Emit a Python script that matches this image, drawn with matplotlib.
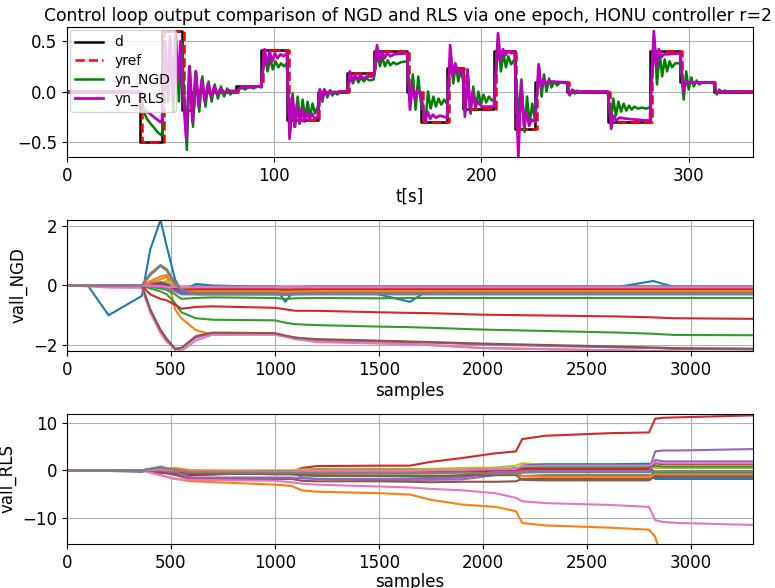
import matplotlib
matplotlib.use('Agg')
import matplotlib.pyplot as plt
import numpy as np

plt.rcParams['font.size'] = 12

# --- top panel: setpoint steps (t[s], level) ---
d_switch = [0, 35.3, 45.8, 55.7, 60.5, 81.5, 93.7, 106.1, 121.0, 135.3, 148.0, 164.1, 170.9,
            183.4, 191.0, 206.0, 216.0, 225.9, 241.4, 261.0, 281.3, 296.0, 312.0, 331.0]
d_level = [0, -0.5, 0.6, -0.18, 0.0, 0.05, 0.41, -0.28, 0.0, 0.18, 0.40, 0.0, -0.30,
           0.23, -0.17, 0.40, -0.37, 0.09, 0.0, -0.30, 0.40, 0.09, 0.0, 0.0]
yref_switch = [0, 36.1, 46.6, 56.5, 61.3, 82.3, 94.5, 106.9, 121.8, 136.1, 148.8, 164.9, 171.7,
               184.2, 191.8, 206.8, 216.8, 226.7, 242.2, 261.8, 282.1, 296.8, 312.8, 331.0]

# plant output with NGD-trained controller (t, y)
yn_ngd = [(0, 0), (35.3, 0), (36, -0.12), (37, -0.2), (38.5, -0.27), (40, -0.31), (42, -0.36), (44, -0.41), (45.8, -0.44),
          (47.5, 0.4), (48.8, -0.1), (50, 0.5), (51.3, -0.2), (52.5, 0.55), (54, -0.1), (55.3, 0.5), (56.5, 0.0),
          (57.8, -0.58), (59.3, 0.25), (60.8, -0.35), (62.3, 0.2), (63.8, -0.2), (65.3, 0.15), (66.8, -0.15),
          (68.3, 0.1), (69.8, -0.1), (71.3, 0.07), (72.8, -0.07), (74.3, 0.05), (75.8, -0.05), (77.3, 0.03),
          (78.8, -0.03), (80.5, 0.01), (82, 0.0), (84, 0.04), (86, 0.02), (88, 0.05), (90, 0.03), (92, 0.05), (93.7, 0.04),
          (95.5, 0.38), (96.8, 0.2), (98, 0.33), (99.3, 0.22), (100.6, 0.3), (102, 0.24), (103.3, 0.28), (104.7, 0.25), (106, 0.28),
          (107.6, -0.42), (108.9, -0.02), (110.1, -0.35), (111.3, -0.05), (112.5, -0.3), (113.7, -0.08), (114.9, -0.27),
          (116.1, -0.1), (117.3, -0.25), (118.5, -0.12), (119.7, -0.22), (121, -0.15),
          (122, 0.02), (123.2, -0.1), (124.4, 0.02), (125.6, -0.06), (126.8, 0.01), (128, -0.04), (129.2, 0.0),
          (130.4, -0.03), (132, 0.0), (135.3, 0.0),
          (136.8, 0.18), (138, 0.08), (139.3, 0.15), (140.6, 0.09), (141.9, 0.14), (143.2, 0.1), (144.5, 0.13), (146, 0.11), (148, 0.12),
          (149.8, 0.38), (151, 0.25), (152.2, 0.34), (153.4, 0.25), (154.7, 0.31), (156, 0.26), (157.5, 0.29), (159, 0.27),
          (161, 0.29), (164.1, 0.3),
          (165.6, -0.12), (166.9, 0.17), (168.2, -0.18), (169.5, 0.15), (170.7, -0.1),
          (171.8, -0.2), (173, -0.3), (174.2, 0.0), (175.5, -0.17), (176.8, -0.05), (178, -0.15), (179.3, -0.07),
          (180.6, -0.13), (182, -0.08), (183.4, -0.12),
          (185.2, 0.36), (186.4, 0.08), (187.6, 0.27), (188.8, 0.1), (190, 0.2), (191, 0.13),
          (192.3, -0.2), (193.5, 0.15), (194.8, -0.22), (196, 0.05), (197.3, -0.16), (198.5, 0.0), (199.8, -0.13),
          (201, -0.03), (202.3, -0.11), (203.6, -0.05), (205, -0.09), (206, -0.08),
          (208.2, 0.47), (209.4, 0.2), (210.6, 0.38), (211.8, 0.24), (213, 0.35), (214.3, 0.27), (216, 0.32),
          (216.8, 0.1), (218, -0.25), (219.3, 0.12), (220.8, -0.4), (222, -0.05), (223.2, -0.32), (224.5, -0.12), (225.9, -0.3),
          (227.8, 0.24), (229, -0.05), (230.2, 0.17), (231.4, 0.0), (232.6, 0.13), (233.8, 0.04), (235, 0.1),
          (236.5, 0.06), (238, 0.09), (241.4, 0.08),
          (242.6, -0.04), (243.8, 0.02), (245, -0.02), (246.3, 0.01), (247.5, -0.01), (249, 0.0), (261, 0.0),
          (262.4, -0.32), (263.6, -0.07), (264.9, -0.24), (266.1, -0.1), (267.4, -0.2), (268.6, -0.12), (269.9, -0.19),
          (271.2, -0.14), (272.5, -0.18), (273.8, -0.15), (275.5, -0.17), (277.5, -0.16), (279.5, -0.17), (281.3, -0.16),
          (283.5, 0.5), (284.7, 0.07), (286, 0.38), (287.2, 0.15), (288.4, 0.32), (289.6, 0.2), (290.8, 0.3),
          (292, 0.24), (293.5, 0.28), (296, 0.28),
          (297.6, -0.08), (298.8, 0.2), (300, 0.02), (301.3, 0.14), (302.5, 0.05), (303.8, 0.11), (305, 0.07),
          (307, 0.09), (312, 0.09),
          (313.5, -0.03), (314.8, 0.02), (316, -0.01), (317.3, 0.01), (319, 0.0), (331, 0.0)]

# plant output with RLS-trained controller (t, y)
yn_rls = [(0, 0), (35.3, 0), (36, -0.1), (37, -0.17), (38.5, -0.2), (40, -0.22), (41.7, -0.25), (43, -0.27), (44.9, -0.3), (45.8, -0.31),
          (47.3, 0.5), (48.5, 0.0), (49.7, 0.55), (51, -0.1), (52.3, 0.57), (53.5, 0.1), (54.8, 0.5), (56.2, -0.1),
          (57.5, -0.47), (59, 0.25), (60.5, -0.3), (62, 0.2), (63.5, -0.15), (65, 0.12), (66.5, -0.1), (68, 0.08),
          (69.5, -0.05), (71, 0.05), (72.5, -0.03), (74, 0.03), (76, -0.01), (78, 0.01), (81.5, 0.0),
          (85, 0.05), (88, 0.04), (91, 0.05), (93.7, 0.05),
          (95.3, 0.42), (96.5, 0.25), (97.8, 0.4), (99, 0.3), (100.3, 0.38), (101.5, 0.33), (103, 0.37), (104.5, 0.35), (106.1, 0.38),
          (107.4, -0.47), (108.6, -0.05), (109.8, -0.35), (111, -0.12), (112.2, -0.32), (113.4, -0.17), (114.6, -0.3),
          (115.8, -0.2), (117, -0.28), (118.2, -0.22), (119.4, -0.27), (121, -0.25),
          (122, 0.02), (123, -0.08), (124, 0.02), (125.5, -0.04), (127, 0.01), (129, -0.02), (131, 0.0), (135.3, 0.0),
          (136.5, 0.2), (137.7, 0.1), (139, 0.17), (140.3, 0.12), (141.6, 0.16), (143, 0.13), (145, 0.15), (148, 0.15),
          (149.6, 0.46), (150.8, 0.3), (152, 0.4), (153.2, 0.33), (154.5, 0.38), (156, 0.35), (158, 0.37), (164.1, 0.38),
          (165.5, -0.18), (166.7, 0.05), (168, -0.08), (169.3, 0.02), (170.9, -0.03),
          (172.8, -0.3), (174, -0.2), (175.3, -0.27), (176.6, -0.23), (178, -0.26), (180, -0.24), (183.4, -0.26),
          (184.9, 0.46), (186.1, 0.15), (187.3, 0.28), (188.5, 0.18), (189.8, 0.22), (191, 0.2),
          (192, -0.25), (193.3, 0.22), (194.5, -0.2), (195.8, 0.0), (197, -0.15), (198.3, -0.1), (200, -0.15), (206, -0.15),
          (208, 0.58), (209.2, 0.3), (210.4, 0.42), (211.6, 0.36), (212.8, 0.4), (214, 0.38), (216, 0.39),
          (217.8, -0.65), (219.2, 0.1), (220.5, -0.35), (221.8, -0.2), (223, -0.34), (224.3, -0.28), (225.9, -0.3),
          (227.6, 0.27), (228.8, 0.03), (230, 0.13), (231.2, 0.07), (232.5, 0.1), (241.4, 0.09),
          (242.5, -0.03), (244, 0.01), (246, 0.0), (261, 0.0),
          (262.6, -0.37), (263.8, -0.24), (265, -0.29), (266.5, -0.26), (270, -0.27), (275, -0.28), (281.3, -0.29),
          (283.2, 0.6), (284.4, 0.24), (285.6, 0.42), (286.8, 0.34), (288, 0.37), (290, 0.37), (296, 0.38),
          (297.5, 0.0), (298.8, 0.1), (300, 0.09), (312, 0.09),
          (313.5, -0.01), (315, 0.0), (331, 0.0)]

# --- middle panel: NGD weights on a common sample grid ---
ngd_samples = [0, 100, 200, 360, 400, 450, 480, 520, 550, 620, 700, 1000, 1050, 1100,
               1200, 1500, 1650, 1750, 2000, 2650, 2820, 2920, 3300]
ngd_weights = [
    [0, 0, -1.0, -0.35, 1.2, 2.2, 1.3, 0.2, -0.2, 0.05, 0.0, -0.05, -0.55, -0.1, -0.05, -0.3, -0.55, -0.1, -0.05, -0.05, 0.15, -0.05, -0.05],
    [0, 0, 0, 0, 0.15, 0.3, 0.35, -0.8, -1.1, -1.5, -1.65, -1.65, -1.7, -1.75, -1.85, -1.9, -1.95, -2.0, -2.1, -2.18, -2.2, -2.22, -2.25],
    [0, 0, 0, 0, -0.1, -0.2, -0.3, -0.6, -0.9, -1.1, -1.15, -1.17, -1.25, -1.3, -1.33, -1.38, -1.4, -1.42, -1.48, -1.58, -1.62, -1.66, -1.67],
    [0, 0, 0, 0, -0.3, -0.45, -0.5, -0.65, -0.78, -0.72, -0.7, -0.75, -0.8, -0.85, -0.85, -0.9, -0.92, -0.93, -0.98, -1.04, -1.07, -1.1, -1.12],
    [0, 0, 0, 0, -0.8, -1.5, -1.8, -2.1, -2.1, -1.75, -1.6, -1.62, -1.7, -1.8, -1.82, -1.87, -1.9, -1.92, -1.98, -2.08, -2.1, -2.13, -2.15],
    [0, 0, 0, 0, 0.35, 0.68, 0.5, 0.0, -0.1, -0.08, -0.05, -0.05, -0.08, -0.06, -0.05, -0.05, -0.05, -0.05, -0.05, -0.05, -0.05, -0.05, -0.05],
    [0, -0.03, -0.07, -0.08, -0.9, -1.6, -1.9, -2.1, -2.2, -1.85, -1.65, -1.65, -1.72, -1.8, -1.9, -1.95, -1.98, -2.0, -2.1, -2.18, -2.2, -2.22, -2.25],
    [0, 0, 0, 0, 0.4, 0.68, 0.55, 0.1, -0.1, -0.05, -0.03, -0.03, -0.06, -0.05, -0.03, -0.03, -0.03, -0.03, -0.03, -0.03, -0.03, -0.03, -0.03],
    [0, 0, 0, 0, 0.05, 0.1, 0.15, -0.05, -0.15, -0.15, -0.15, -0.15, -0.15, -0.15, -0.15, -0.15, -0.15, -0.15, -0.15, -0.15, -0.15, -0.15, -0.15],
    [0, 0, 0, 0, 0.05, 0.1, 0.05, -0.1, -0.2, -0.18, -0.18, -0.18, -0.2, -0.2, -0.2, -0.2, -0.2, -0.2, -0.2, -0.2, -0.2, -0.2, -0.2],
    [0, 0, 0, 0, 0.05, 0.1, 0.05, -0.15, -0.25, -0.25, -0.25, -0.25, -0.27, -0.26, -0.25, -0.25, -0.25, -0.25, -0.25, -0.25, -0.25, -0.25, -0.25],
    [0, 0, 0, 0, 0.1, 0.2, 0.3, 0.0, -0.15, -0.2, -0.2, -0.2, -0.22, -0.2, -0.2, -0.2, -0.2, -0.2, -0.2, -0.2, -0.2, -0.2, -0.2],
    [0, 0, 0, 0, -0.05, -0.1, -0.15, -0.3, -0.45, -0.42, -0.4, -0.42, -0.45, -0.43, -0.42, -0.43, -0.42, -0.42, -0.42, -0.42, -0.42, -0.42, -0.42],
    [0, 0, 0, 0, 0.0, 0.05, 0.0, -0.1, -0.15, -0.12, -0.12, -0.12, -0.14, -0.13, -0.12, -0.12, -0.12, -0.12, -0.12, -0.12, -0.12, -0.12, -0.12],
    [0, 0, 0, 0, -0.05, -0.05, -0.1, -0.2, -0.3, -0.3, -0.3, -0.3, -0.32, -0.3, -0.3, -0.3, -0.3, -0.3, -0.3, -0.3, -0.3, -0.3, -0.3],
    [0, 0, 0, 0, -0.8, -1.5, -1.8, -2.15, -2.1, -1.7, -1.58, -1.6, -1.68, -1.75, -1.8, -1.85, -1.88, -1.9, -1.95, -2.05, -2.08, -2.1, -2.12],
    [0, 0, 0, 0, 0.0, -0.02, -0.05, -0.05, -0.06, -0.06, -0.06, -0.06, -0.06, -0.06, -0.06, -0.06, -0.06, -0.06, -0.06, -0.06, -0.06, -0.06, -0.06],
    [0, 0, 0, 0, 0.35, 0.65, 0.5, 0.05, -0.15, -0.3, -0.3, -0.3, -0.3, -0.3, -0.28, -0.28, -0.28, -0.28, -0.28, -0.28, -0.28, -0.28, -0.28],
]

# --- bottom panel: RLS weights on a common sample grid ---
rls_samples = [0, 100, 360, 450, 520, 600, 1000, 1080, 1130, 1200, 1500, 1650, 1750, 1900,
               2060, 2160, 2190, 2300, 2620, 2800, 2830, 2870, 2950, 3300]
rls_weights = [
    [0, 0, -0.3, 0.7, 0.0, -0.3, -0.3, -0.2, -0.2, -0.2, -0.3, -0.3, 0.0, -0.2, -0.2, 0.5, 0.4, 0.3, 0.3, 0.3, -0.5, -0.5, -0.5, -0.5],
    [0, 0, 0, -1.0, -1.8, -2.3, -3.0, -3.3, -4.2, -4.5, -4.8, -5.1, -6.2, -7.2, -7.7, -8.6, -11.1, -11.6, -12.1, -12.5, -14.0, -20.0, -24.0, -24.0],
    [0, 0, 0, 0.3, -0.5, -1.0, -0.5, -0.5, 0.2, 0.3, 0.3, 0.3, 0.3, 0.3, 0.3, 0.3, 0.8, 0.8, 0.8, 0.8, -0.5, -0.3, -0.3, -0.3],
    [0, 0, 0, -0.5, -0.8, -1.0, -0.3, -0.3, 0.5, 0.9, 1.0, 1.0, 1.8, 2.6, 3.6, 4.0, 6.6, 7.3, 7.86, 8.0, 10.9, 11.1, 11.2, 11.6],
    [0, 0, 0, 0.3, 0.0, -0.2, -0.2, -0.2, -1.5, -1.8, -2.0, -2.0, -2.0, -1.9, -1.0, -0.8, -0.5, -0.3, 0.1, 0.1, 4.0, 4.2, 4.2, 4.5],
    [0, 0, 0, -0.2, -1.0, -1.8, -1.8, -1.8, -2.2, -2.3, -2.3, -2.4, -2.5, -2.4, -2.4, -2.3, -1.8, -1.8, -1.8, -1.8, -1.5, -1.5, -1.5, -1.5],
    [0, 0, 0, -1.0, -1.8, -2.0, -2.2, -2.5, -2.8, -3.0, -3.4, -3.6, -3.9, -4.2, -4.8, -5.8, -6.5, -6.9, -7.3, -7.7, -10.5, -10.9, -11.1, -11.5],
    [0, 0, 0, 0.8, 0.0, -0.3, -0.3, -0.3, -0.3, -0.3, -0.5, -0.5, -0.5, -0.3, -0.8, -0.8, -1.2, -1.0, -1.0, -1.0, -1.0, -1.3, -1.5, -1.5],
    [0, 0, 0, 0.3, 0.0, 0.0, 0.0, 0.0, 0.2, 0.2, 0.2, 0.2, 0.3, 0.5, 0.6, 1.0, 1.5, 1.2, 1.2, 1.2, 0.5, 0.5, 0.5, 0.5],
    [0, 0, 0, 0.2, 0.1, -0.5, -0.6, -0.6, -0.3, -0.2, -0.2, -0.2, -0.2, 0.0, 0.3, 0.4, 0.0, 0.0, 0.0, 0.0, -1.0, -1.0, -1.0, -1.0],
    [0, 0, 0, 0.5, 0.1, -0.2, -0.2, -0.2, -0.5, -0.5, -0.6, -0.6, -0.5, -0.4, -0.4, -0.3, 1.0, 1.3, 1.3, 1.4, -1.8, -1.8, -1.8, -1.8],
    [0, 0, 0, 0.3, 0.5, 0.0, -0.3, -0.3, -0.4, -0.4, -0.4, -0.4, -0.4, -0.5, -0.3, -0.3, -1.2, -1.4, -1.4, -1.4, -0.8, -0.9, -0.9, -0.9],
    [0, 0, 0, 0.5, 0.0, -0.5, -0.8, -0.8, -1.0, -1.2, -1.2, -1.3, -1.4, -1.0, -0.3, 0.0, 0.6, 0.5, 0.5, 0.5, 1.0, 0.8, 0.8, 0.8],
    [0, 0, 0, 0.2, -0.3, -0.4, -0.4, -0.4, -0.2, -0.1, -0.1, -0.1, -0.2, -0.2, -0.2, 0.0, 0.3, 0.3, 0.3, 0.3, 1.5, 1.3, 1.3, 1.3],
    [0, 0, 0, 0.0, -0.3, -1.5, -1.5, -1.5, -1.7, -1.8, -1.8, -1.8, -1.7, -1.5, -0.3, -0.3, -0.2, -0.2, -0.2, -0.2, 2.2, 1.9, 1.9, 1.9],
    [0, 0, 0, 0.4, 0.0, -0.6, -0.8, -0.8, -1.0, -1.0, -1.1, -1.1, -1.1, -1.1, -1.0, -1.0, -2.0, -2.1, -2.1, -2.1, -1.2, -1.3, -1.3, -1.3],
    [0, 0, 0, 0.2, 0.0, -0.2, -0.3, -0.3, -0.1, -0.1, -0.1, -0.1, 0.0, 0.1, 0.3, 0.3, 0.9, 1.0, 1.0, 1.0, 1.7, 1.5, 1.5, 1.5],
    [0, 0, 0, 0.6, 0.1, -0.4, -0.5, -0.5, -0.5, -0.6, -0.6, -0.6, -0.6, -0.4, -0.7, -0.7, -0.3, -0.4, -0.4, -0.4, -0.2, -0.2, -0.2, -0.2],
]

fig = plt.figure(figsize=(7.75, 5.88), dpi=100)
ax1 = fig.add_axes([0.0865, 0.733, 0.885, 0.221])
ax2 = fig.add_axes([0.0865, 0.403, 0.885, 0.223])
ax3 = fig.add_axes([0.0865, 0.075, 0.885, 0.221])

# --- top: control loop outputs ---
ngd_t, ngd_y = zip(*yn_ngd)
rls_t, rls_y = zip(*yn_rls)
ax1.plot(d_switch, d_level, color='k', lw=1.8, drawstyle='steps-post', label='d')
ax1.plot(yref_switch, d_level, color='r', lw=1.8, ls='--', drawstyle='steps-post', label='yref')
ax1.plot(ngd_t, ngd_y, color='g', lw=1.8, label='yn_NGD')
ax1.plot(rls_t, rls_y, color='m', lw=2.0, label='yn_RLS')
ax1.set_xlim(0, 331)
ax1.set_ylim(-0.65, 0.64)
ax1.set_xticks([0, 100, 200, 300])
ax1.set_yticks([-0.5, 0.0, 0.5])
ax1.set_xlabel('t[s]', labelpad=2)
ax1.set_title('Control loop output comparison of NGD and RLS via one epoch, HONU controller r=2',
              fontsize=12.3, pad=4, x=0.497)
ax1.legend(loc='upper left', fontsize=10, handlelength=2.0, borderpad=0.4,
           labelspacing=0.35, borderaxespad=0.2)
ax1.grid(True)

# --- middle: NGD weights ---
for w in ngd_weights:
    ax2.plot(ngd_samples, w, lw=1.5)
ax2.set_xlim(0, 3300)
ax2.set_ylim(-2.2, 2.2)
ax2.set_yticks([-2, 0, 2])
ax2.set_xlabel('samples', labelpad=2)
ax2.set_ylabel('vall_NGD')
ax2.grid(True)

# --- bottom: RLS weights ---
for w in rls_weights:
    ax3.plot(rls_samples, w, lw=1.5)
ax3.set_xlim(0, 3300)
ax3.set_ylim(-15.5, 11.9)
ax3.set_yticks([-10, 0, 10])
ax3.set_xlabel('samples', labelpad=1)
ax3.set_ylabel('vall_RLS')
ax3.grid(True)

fig.savefig('out.png', dpi=100)
plt.close(fig)
